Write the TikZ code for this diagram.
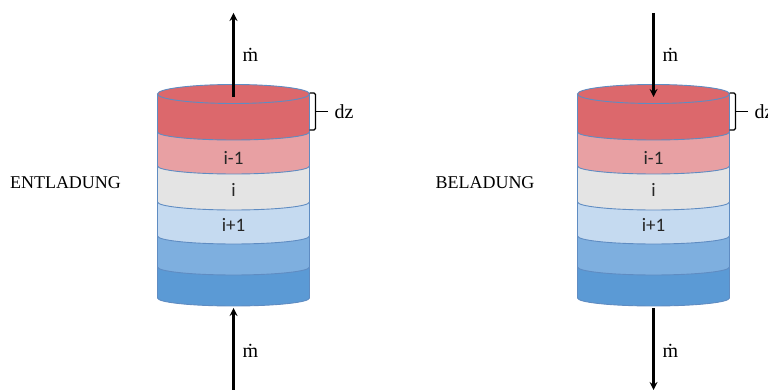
\documentclass[tikz,border=0pt]{standalone}
\usepackage{fontspec}
\setmainfont{Liberation Serif}
\newfontfamily\layerfont{Carlito}
\definecolor{wall}{HTML}{5F8CC2}
\definecolor{c_red}{HTML}{DC686C}
\definecolor{c_pink}{HTML}{E8A0A3}
\definecolor{c_grey}{HTML}{E4E4E4}
\definecolor{c_light}{HTML}{C5DAF0}
\definecolor{c_mid}{HTML}{7EAFDF}
\definecolor{c_dark}{HTML}{5B9AD5}
\begin{document}
\begin{tikzpicture}[x=1pt,y=1pt]
	\tikzstyle{layer} = [draw=wall, line width=0.9pt]
	\tikzstyle{layer_label} = [font=\layerfont\fontsize{19}{19}\selectfont, text=black!85, inner sep=0pt]
	\tikzstyle{side_label} = [font=\fontsize{18}{18}\selectfont, inner sep=0pt]
	\tikzstyle{small_label} = [font=\fontsize{20}{20}\selectfont, inner sep=0pt]
	\tikzstyle{flow} = [line width=2.5pt, ->, >=stealth]
	\tikzstyle{bracket} = [line width=1.1pt, rounded corners=1.5pt]
	\def\rx{76}
	\def\ry{8}
	\useasboundingbox (0,0) rectangle (768,390);

	\foreach \name/\cx in {ent/233.5, bel/653.5} {
		% layers, lowest first
		\foreach \col/\ytop/\ybot in {c_dark/123/92, c_mid/154/123, c_light/188/154, c_grey/224/188, c_pink/258/224, c_red/296/258}
			\draw[layer, fill=\col] (\cx-\rx,\ytop) -- (\cx-\rx,\ybot)
				arc[start angle=180, end angle=360, x radius=\rx pt, y radius=\ry pt]
				-- (\cx+\rx,\ytop) -- cycle;
		\draw[layer, fill=c_red] (\cx,296) ellipse[x radius=\rx pt, y radius=9.5pt];

		\node[layer_label] (\name_a) at (\cx,232) {i-1};
		\node[layer_label] (\name_b) at (\cx,200) {i};
		\node[layer_label] (\name_c) at (\cx,165) {i+1};
		\node[small_label] (\name_top) at (\cx+17,335) {\.m};
		\node[small_label] (\name_bot) at (\cx+17,39) {\.m};
		\node[small_label] (\name_dz) at (\cx+110.5,278) {dz};

		% dz bracket
		\coordinate (\name_b1) at (\cx+76,297);
		\coordinate (\name_b2) at (\cx+76,260);
		\coordinate (\name_b3) at (\cx+94,278.5);
		\draw[bracket] (\name_b1) -- ++(6,0) -- ++(0,-37) -- (\name_b2);
		\draw[bracket] (\cx+82,278.5) -- (\name_b3);

		\coordinate (\name_up) at (\cx,377);
		\coordinate (\name_in) at (\cx,293);
		\coordinate (\name_ul) at (\cx,82);
		\coordinate (\name_dl) at (\cx,0);
	}
	\node[side_label] (ent_title) at (65.5,207) {ENTLADUNG};
	\node[side_label] (bel_title) at (485,207) {BELADUNG};

	%mass flow
	\draw[flow] (ent_in) -- (ent_up);
	\draw[flow] (ent_dl) -- (ent_ul);
	\draw[flow] (bel_up) -- (bel_in);
	\draw[flow] (bel_ul) -- (bel_dl);
\end{tikzpicture}
\end{document}
